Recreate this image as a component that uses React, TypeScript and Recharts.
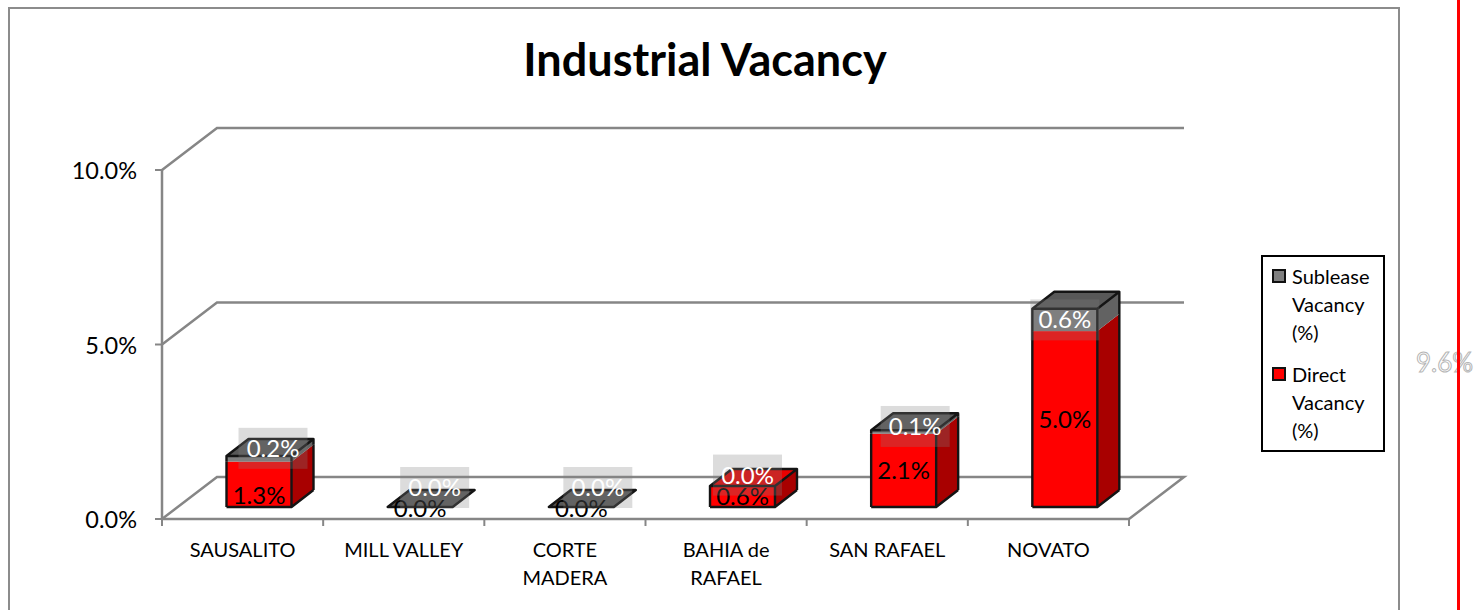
import { Bar, BarChart, CartesianGrid, LabelList, Legend, XAxis, YAxis } from 'recharts';

const categories = ['SAUSALITO', 'MILL VALLEY', 'CORTE\nMADERA', 'BAHIA de\nRAFAEL', 'SAN RAFAEL', 'NOVATO'];
const directVacancy = [1.3, 0, 0, 0.6, 2.1, 5.04];
const subleaseVacancy = [0.16, 0, 0, 0, 0.1, 0.64];
const yTicks = [0, 5, 10];

const chartData = categories.map((name, i) => ({
  name,
  direct: directVacancy[i],
  sublease: subleaseVacancy[i],
}));

const FONT = 'Lato, Carlito, Calibri, sans-serif';
const AXIS_COLOR = '#868686';

// the bars sit part way into the 3D floor
const BAR_SHIFT_X = 16.5;
const BAR_SHIFT_Y = -12;
const DEPTH_X = 22;
const DEPTH_Y = -17;
// back wall offset from the front axis plane
const WALL_X = 55;
const WALL_Y = -42;

// hand-dragged data labels in the original
const directNudge = [[0, 10], [0, 0], [0, 0], [0, -1], [0, -1], [0, -1]];
const subleaseNudge = [[14, -10.5], [14.5, -19.5], [16.5, -19.5], [5, -11], [11.5, -5.5], [0, 0]];

const pct = (v: number) => `${v.toFixed(1)}%`;

function WallLine(props: any) {
  const { x1, y1, x2, y, height } = props;
  const isFloor = y1 >= y + height - 1;
  const d = `M${x1},${y1} L${x1 + WALL_X},${y1 + WALL_Y} L${x2 + WALL_X},${y1 + WALL_Y}` +
    (isFloor ? ` L${x2},${y1}` : '');
  return <path d={d} fill="none" stroke={AXIS_COLOR} strokeWidth={2.5} />;
}

function Segment({ x, y, width, height, front, side, top, showTop, showBase }: any) {
  const l = x + BAR_SHIFT_X;
  const r = l + width;
  const t = y + BAR_SHIFT_Y;
  const b = t + height;
  const bx = r + DEPTH_X;
  return (
    <g>
      <rect x={l} y={t} width={width} height={height} fill={front} />
      <polygon points={`${r},${t} ${bx},${t + DEPTH_Y} ${bx},${b + DEPTH_Y} ${r},${b}`} fill={side} />
      {showTop && (
        <polygon points={`${l},${t} ${l + DEPTH_X},${t + DEPTH_Y} ${bx},${t + DEPTH_Y} ${r},${t}`} fill={top} />
      )}
      <path
        d={`M${l},${t} L${l},${b} M${r},${t} L${r},${b} M${bx},${t + DEPTH_Y} L${bx},${b + DEPTH_Y}` +
          (showBase ? ` M${l},${b} L${r},${b} L${bx},${b + DEPTH_Y}` : '') +
          (showTop ? ` M${l},${t} L${r},${t} L${bx},${t + DEPTH_Y} L${l + DEPTH_X},${t + DEPTH_Y} Z` : '')}
        fill="none"
        stroke="#141414"
        strokeWidth={2.4}
        strokeLinejoin="round"
      />
    </g>
  );
}

function DirectShape(props: any) {
  if (props.height <= 0) return null;
  return (
    <Segment
      {...props}
      front="#ff0000"
      side="#a80000"
      top="#e80000"
      showBase
      showTop={props.payload.sublease === 0}
    />
  );
}

function SubleaseShape(props: any) {
  const empty = props.payload.direct === 0 && props.payload.sublease === 0;
  if (props.height <= 0 && !empty) return null;
  return (
    <Segment
      {...props}
      front="#7f7f7f"
      side="#626262"
      top="#585858"
      showTop
      showBase={empty}
    />
  );
}

function DirectLabel({ x, y, width, height, value, index }: any) {
  const [nx, ny] = directNudge[index];
  return (
    <text
      x={x + width / 2 + BAR_SHIFT_X + nx}
      y={y + height / 2 + BAR_SHIFT_Y + ny}
      textAnchor="middle"
      dominantBaseline="central"
      fontFamily={FONT}
      fontSize={24}
      fill="#000"
    >
      {pct(value)}
    </text>
  );
}

function SubleaseLabel({ x, y, width, height, value, index }: any) {
  const [nx, ny] = subleaseNudge[index];
  const cx = x + width / 2 + BAR_SHIFT_X + nx;
  const cy = y + height / 2 + BAR_SHIFT_Y + ny;
  return (
    <g>
      <rect x={cx - 34.5} y={cy - 20.5} width={69} height={41} fill="rgba(128,128,128,0.28)" />
      <text
        x={cx}
        y={cy - 1}
        textAnchor="middle"
        dominantBaseline="central"
        fontFamily={FONT}
        fontSize={24}
        fill="#fff"
      >
        {pct(value)}
      </text>
    </g>
  );
}

// ticks sit on the category boundaries, labels in the middle of each band
function CategoryTick({ x, y, payload, width, visibleTicksCount, index }: any) {
  const lines = String(payload.value).split('\n');
  const band = width / visibleTicksCount;
  const edges = index === visibleTicksCount - 1 ? [x - band / 2, x + band / 2] : [x - band / 2];
  return (
    <g>
      {edges.map((ex) => (
        <line key={ex} x1={ex} x2={ex} y1={y} y2={y + 7} stroke={AXIS_COLOR} strokeWidth={2} />
      ))}
      <text x={x} y={y} textAnchor="middle" fontFamily={FONT} fontSize={20} fill="#000">
        {lines.map((line, i) => (
          <tspan key={line} x={x} dy={i === 0 ? 38 : 28}>
            {line}
          </tspan>
        ))}
      </text>
    </g>
  );
}

function LegendBox({ payload }: any) {
  const items = [...(payload ?? [])].reverse();
  return (
    <div
      style={{
        boxSizing: 'border-box',
        width: 124,
        height: 197,
        border: '2px solid #000',
        background: '#fff',
        fontFamily: FONT,
        fontSize: 20,
        lineHeight: '28px',
        padding: '5px 0 0 9px',
      }}
    >
      {items.map((item: any) => (
        <div key={item.value} style={{ display: 'flex', marginBottom: 14 }}>
          <span
            style={{
              boxSizing: 'border-box',
              width: 14,
              height: 14,
              marginTop: 7,
              marginRight: 6,
              flexShrink: 0,
              border: '2px solid #111',
              background: item.color,
            }}
          />
          <span style={{ width: 88, color: '#000' }}>{item.value}</span>
        </div>
      ))}
    </div>
  );
}

export default function App() {
  return (
    <div style={{ position: 'absolute', left: 0, top: 0, width: 1484, height: 610 }}>
      <BarChart
        width={1484}
        height={610}
        data={chartData}
        margin={{ top: 170, right: 355, bottom: 31, left: 102 }}
        style={{ background: '#fff' }}
      >
        <rect x={9} y={8} width={1390} height={660} fill="none" stroke="#8c8c8c" strokeWidth={2} />
        <text x={705} y={76} textAnchor="middle" fontFamily={FONT} fontSize={45} fontWeight={700} fill="#000">
          Industrial Vacancy
        </text>
        <CartesianGrid vertical={false} horizontal={(p: any) => <WallLine key={p.key} {...p} />} />
        <XAxis
          dataKey="name"
          height={60}
          interval={0}
          tick={<CategoryTick />}
          tickLine={false}
          tickSize={0}
          tickMargin={0}
          axisLine={{ stroke: AXIS_COLOR, strokeWidth: 2.5 }}
        />
        <YAxis
          width={60}
          domain={[0, 10]}
          ticks={yTicks}
          tickFormatter={pct}
          tick={{ fontFamily: FONT, fontSize: 23.5, fill: '#000', dy: 1 }}
          tickLine={{ stroke: AXIS_COLOR, strokeWidth: 2 }}
          axisLine={{ stroke: AXIS_COLOR, strokeWidth: 2.5 }}
          tickSize={7}
          tickMargin={18}
        />
        <Bar
          dataKey="direct"
          name="Direct Vacancy (%)"
          stackId="vacancy"
          fill="#ff0000"
          barSize={65}
          shape={<DirectShape />}
          isAnimationActive={false}
        >
          <LabelList dataKey="direct" content={<DirectLabel />} />
        </Bar>
        <Bar
          dataKey="sublease"
          name="Sublease Vacancy (%)"
          stackId="vacancy"
          fill="#7f7f7f"
          barSize={65}
          shape={<SubleaseShape />}
          isAnimationActive={false}
        >
          <LabelList dataKey="sublease" content={<SubleaseLabel />} />
        </Bar>
        <Legend
          layout="vertical"
          align="center"
          verticalAlign="middle"
          content={<LegendBox />}
          wrapperStyle={{ left: 1261, top: 255, width: 124, height: 197 }}
        />
        <text
          x={1444.5}
          y={372}
          textAnchor="middle"
          fontFamily={FONT}
          fontSize={26}
          fill="#fff"
          stroke="#b5b5b5"
          strokeWidth={1}
        >
          9.6%
        </text>
        <rect x={1457} y={0} width={3} height={610} fill="#ff0000" />
      </BarChart>
    </div>
  );
}
